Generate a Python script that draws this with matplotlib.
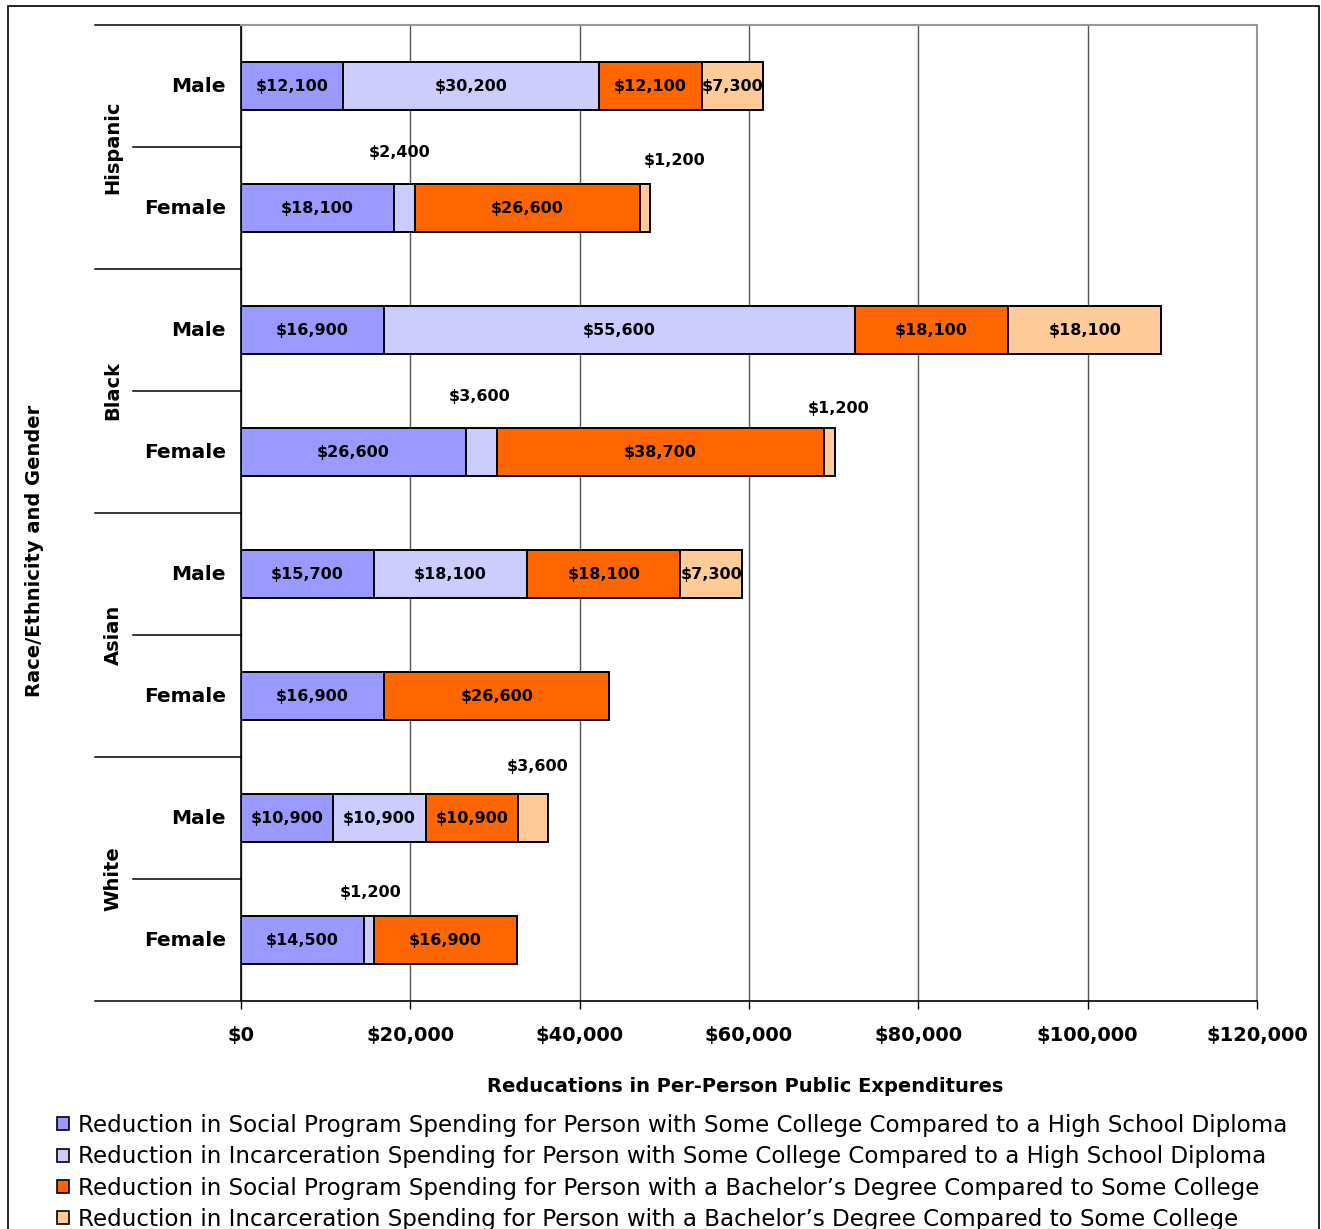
import matplotlib
matplotlib.use("Agg")
import matplotlib.pyplot as plt
from matplotlib.patches import Patch, Rectangle
from matplotlib.transforms import blended_transform_factory
from matplotlib.ticker import FuncFormatter

plt.rcParams["font.family"] = ["DejaVu Sans"]

groups = ["Hispanic", "Black", "Asian", "White"]
genders = ["Male", "Female"]

# one value per row: Hispanic M/F, Black M/F, Asian M/F, White M/F
social_some = [12100, 18100, 16900, 26600, 15700, 16900, 10900, 14500]
incarc_some = [30200, 2400, 55600, 3600, 18100, 0, 10900, 1200]
social_ba = [12100, 26600, 18100, 38700, 18100, 26600, 10900, 16900]
incarc_ba = [7300, 1200, 18100, 1200, 7300, 0, 3600, 0]

series_names = [
    "Reduction in Social Program Spending for Person with Some College Compared to a High School Diploma",
    "Reduction in Incarceration Spending for Person with Some College Compared to a High School Diploma",
    "Reduction in Social Program Spending for Person with a Bachelor\u2019s Degree Compared to Some College",
    "Reduction in Incarceration Spending for Person with a Bachelor\u2019s Degree Compared to Some College",
]
colors = ["#9999FF", "#CCCCFF", "#FF6600", "#FFCC99"]

# labels for thin segments sit above the bar: (row, series) -> pixel offset
outside = {(1, 1): (-5, 56), (1, 3): (30, 48), (3, 1): (-2, 56),
           (3, 3): (9, 43), (6, 3): (5, 52), (7, 1): (2, 48)}

W, H = 1321, 1229
fig = plt.figure(figsize=(W / 100, H / 100), dpi=100)
ax = fig.add_axes([241 / W, 1 - 1001 / H, 1016 / W, 976 / H])

series = [social_some, incarc_some, social_ba, incarc_ba]
rows = list(range(len(social_some)))
left = [0] * len(rows)
for k, (vals, c) in enumerate(zip(series, colors)):
    ax.barh(rows, vals, left=left, height=0.4, color=c, edgecolor="black",
            linewidth=1.4, zorder=3)
    for i, v in enumerate(vals):
        if v == 0:
            continue
        cx = left[i] + v / 2
        txt = f"${v:,}"
        if (i, k) in outside:
            ax.annotate(txt, (cx, i), xytext=outside[(i, k)], textcoords="offset pixels",
                        ha="center", va="center", fontsize=11.5, fontweight="bold", zorder=4)
        else:
            ax.text(cx, i, txt, ha="center", va="center", fontsize=11.5,
                    fontweight="bold", zorder=4)
    left = [l + v for l, v in zip(left, vals)]

ax.set_xlim(0, 120000)
ax.set_ylim(7.5, -0.5)
ax.set_xticks(range(0, 120001, 20000))
ax.xaxis.set_major_formatter(FuncFormatter(lambda x, _: f"${x:,.0f}"))
ax.tick_params(axis="x", length=6, pad=12, labelsize=14, width=1)
for t in ax.get_xticklabels():
    t.set_fontweight("bold")
ax.set_yticks([])
ax.grid(axis="x", color="#555555", linewidth=1, zorder=0)
ax.spines["top"].set_color("#999999")
ax.spines["right"].set_color("#999999")
ax.spines["top"].set_linewidth(1.5)
ax.spines["right"].set_linewidth(1.5)
ax.spines["left"].set_linewidth(1.2)
ax.spines["bottom"].set_linewidth(1.2)

# grouped category axis on the left
tr = blended_transform_factory(ax.transAxes, ax.transData)
for b in [-0.5, 0.5, 1.5, 2.5, 3.5, 4.5, 5.5, 6.5, 7.5]:
    x0 = -146 / 1016 if (b + 0.5) % 2 == 0 else -108 / 1016
    ax.plot([x0, 0], [b, b], color="black", lw=1.1, transform=tr, clip_on=False)
for i in rows:
    ax.text(-15 / 1016, i, genders[i % 2], transform=tr, ha="right", va="center",
            fontsize=14.5, fontweight="bold")
for g, name in enumerate(groups):
    ax.text(-128 / 1016, 2 * g + 0.5, name, transform=tr, rotation=90,
            ha="center", va="center", fontsize=14, fontweight="bold")

fig.text(35 / W, 1 - 551 / H, "Race/Ethnicity and Gender", rotation=90,
         ha="center", va="center", fontsize=14, fontweight="bold")
fig.text(745 / W, 1 - 1087 / H, "Reducations in Per-Person Public Expenditures",
         ha="center", va="center", fontsize=14, fontweight="bold")

handles = [Patch(facecolor=c, edgecolor="black", linewidth=1.2) for c in colors]
fig.legend(handles, series_names, loc="upper left", bbox_to_anchor=(57 / W, 1 - 1114 / H),
           frameon=False, fontsize=16.6, handlelength=0.5, handleheight=0.5,
           handletextpad=0.4, labelspacing=0.36, borderpad=0, borderaxespad=0)

fig.patches.append(Rectangle((8 / W, -0.02), 1311 / W, 1 - 6 / H + 0.02, transform=fig.transFigure,
                             fill=False, edgecolor="black", linewidth=1.2))

fig.savefig("out.png", dpi=100)
